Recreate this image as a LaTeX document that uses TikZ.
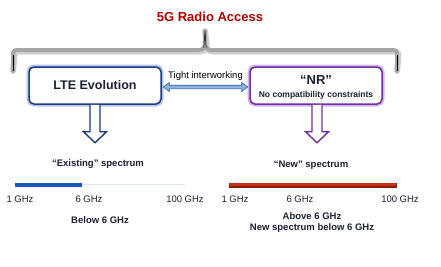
\documentclass[tikz,border=0pt]{standalone}
\usepackage{fontspec}
\setmainfont{Liberation Sans}
\usetikzlibrary{calc}
\definecolor{titlered}{HTML}{B00000}
\definecolor{navy}{HTML}{1F3A80}
\definecolor{navyglow}{HTML}{B4C6E4}
\definecolor{purp}{HTML}{7030A0}
\definecolor{purpglow}{HTML}{D2B6EA}
\definecolor{txt}{HTML}{1A1F33}
\definecolor{arrowfill}{HTML}{8CB4E0}
\definecolor{arrowline}{HTML}{2F5DAA}
\definecolor{barblue}{HTML}{1F55C0}
\definecolor{barfaint}{HTML}{DDE8F5}
\definecolor{barred}{HTML}{C8321A}
\definecolor{barreddark}{HTML}{8E1C0C}
\definecolor{bracegray}{HTML}{A6A6A6}
\begin{document}
\begin{tikzpicture}[x=1pt,y=-1pt,font=\fontsize{9.5}{11}\selectfont,
  box/.style={rounded corners=5pt,minimum width=132pt,minimum height=37pt,
    inner sep=0pt,align=center,text=txt,line width=1.5pt,fill=white},
  lteglow/.style={preaction={draw=navyglow,line width=5pt}},
  nrglow/.style={preaction={draw=purpglow,line width=5pt}},
  blockarrow/.style={fill=white,line width=1.4pt,line join=miter},
  label/.style={text=txt,inner sep=0pt},
  boldlabel/.style={text=txt,inner sep=0pt,font=\fontsize{9.5}{11}\selectfont\bfseries},
  bracestyle/.style={draw=bracegray,line width=4pt,line join=round,line cap=round}]
\useasboundingbox (0,0) rectangle (441,266);

% title
\node[text=titlered,font=\fontsize{13}{15}\selectfont\bfseries] (title) at (210,17) {5G Radio Access};

% brace
\coordinate (bl) at (13,71);
\coordinate (bm) at (205,31);
\coordinate (br) at (397,71);
\draw[bracestyle,draw=black!18,line width=6pt,xshift=1.5pt,yshift=-1.5pt]
  (bl) -- (13,55) .. controls (13,51) and (14,50) .. (18,50) -- (199,50)
  .. controls (204,50) and (205,47) .. (205,41) -- (bm) -- (205,41)
  .. controls (205,47) and (206,50) .. (211,50) -- (392,50)
  .. controls (396,50) and (397,51) .. (397,55) -- (br);
\draw[bracestyle]
  (bl) -- (13,55) .. controls (13,51) and (14,50) .. (18,50) -- (199,50)
  .. controls (204,50) and (205,47) .. (205,41) -- (bm) -- (205,41)
  .. controls (205,47) and (206,50) .. (211,50) -- (392,50)
  .. controls (396,50) and (397,51) .. (397,55) -- (br);
\draw[black,line width=0.5pt] (bl) -- (13,55);
\draw[black,line width=0.5pt] (br) -- (397,55);
\draw[black,line width=0.5pt] (bm) -- (203.8,48) (bm) -- (206.2,48);

% boxes
\node[box,draw=navy,lteglow] (lte) at (95,85.5)
  {\fontsize{12.5}{14}\selectfont\bfseries LTE Evolution};
\node[box,draw=purp,nrglow] (nr) at (316,85.5)
  {{\fontsize{13}{13}\selectfont\bfseries\rule{0pt}{12.5pt}“NR”}\\[1.5pt]{\fontsize{8.5}{10}\selectfont\bfseries No compatibility constraints}};

% double arrow between boxes
\coordinate (L) at ($(lte.east)+(1.5,1.5)$);
\coordinate (R) at ($(nr.west)+(-1.5,1.5)$);
\draw[fill=arrowfill,draw=arrowline,line width=0.6pt,line join=miter]
  (L) -- ($(L)+(6,-4.5)$) -- ($(L)+(6,-1.8)$) -- ($(R)+(-6,-1.8)$) -- ($(R)+(-6,-4.5)$)
  -- (R) -- ($(R)+(-6,4.5)$) -- ($(R)+(-6,1.8)$) -- ($(L)+(6,1.8)$) -- ($(L)+(6,4.5)$) -- cycle;
\node[label,text=black] (tight) at ($(L)!0.5!(R)+(0,-11)$) {Tight interworking};

% down arrows
\coordinate (lteTip) at ($(lte.south)+(0,38)$);
\draw[blockarrow,draw=navy]
  ($(lte.south)+(-5,0)$) -- ($(lte.south)+(-5,27)$) -- ($(lte.south)+(-11.5,27)$)
  -- (lteTip) -- ($(lte.south)+(11.5,27)$) -- ($(lte.south)+(5,27)$) -- ($(lte.south)+(5,0)$);
\coordinate (nrTip) at ($(nr.south)+(1,38)$);
\draw[blockarrow,draw=purp]
  ($(nr.south)+(-4,0)$) -- ($(nr.south)+(-4,27)$) -- ($(nr.south)+(-10.5,27)$)
  -- (nrTip) -- ($(nr.south)+(12.5,27)$) -- ($(nr.south)+(6,27)$) -- ($(nr.south)+(6,0)$);

% existing spectrum
\node[boldlabel] (exist) at (98,164) {“Existing” spectrum};
\coordinate (e1) at (15,184.5);
\coordinate (e6) at (82,184.5);
\coordinate (e100) at (185,184.5);
\draw[barfaint,line width=1pt] (e6) -- (e100);
\draw[barblue,line width=4pt] (e1) -- (e6);
\node[label] (g1) at (20,199) {1 GHz};
\node[label] (g6) at (89,199) {6 GHz};
\node[label] (g100) at (185,199) {100 GHz};
\node[boldlabel] (below) at (100,220) {Below 6 GHz};

% new spectrum
\node[boldlabel] (new) at (311,165) {“New” spectrum};
\coordinate (n1) at (229,185);
\coordinate (n100) at (397,185);
\draw[barreddark,line width=5pt] (n1) -- (n100);
\draw[barred,line width=3.4pt] ($(n1)+(0.8,-0.4)$) -- ($(n100)+(-0.8,-0.4)$);
\node[label] (h1) at (235,199) {1 GHz};
\node[label] (h6) at (300,199) {6 GHz};
\node[label] (h100) at (400,199) {100 GHz};
\node[boldlabel,align=center] (above) at (312,223)
  {Above 6 GHz\\New spectrum below 6 GHz};
\end{tikzpicture}
\end{document}
